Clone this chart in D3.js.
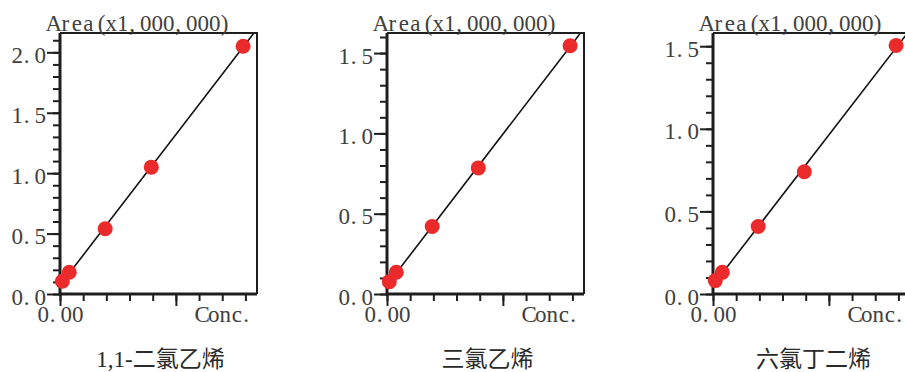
<!DOCTYPE html>
<html>
<head>
<meta charset="utf-8">
<script src="https://cdn.jsdelivr.net/npm/d3@7/dist/d3.min.js"></script>
<style>
  body { margin: 0; background: #fff; }
</style>
</head>
<body>
<svg id="chart"></svg>
<script>
// concentration levels (relative units along the Conc. axis)
const concs = [0.1, 0.4, 1.95, 3.94, 7.9];
// peak area, x1,000,000
const areaDCE = [0.105, 0.18, 0.54, 1.05, 2.05];
const areaTCE = [0.077, 0.135, 0.42, 0.785, 1.546];
const areaHCBD = [0.081, 0.131, 0.409, 0.74, 1.505];
const names = ["1,1-二氯乙烯", "三氯乙烯", "六氯丁二烯"];
const series = [areaDCE, areaTCE, areaHCBD];
const yMaxes = [2.16, 1.625, 1.58];
const xMax = 8.5;
const yLabelStep = 0.5;
const xMinorTicks = [0, 1, 2, 3, 4, 5, 6, 7, 8];
const xMajorTicks = [0, 5];
const yTitle = "Area(x1,000,000)";
const xTitle = "Conc.";
const xZeroLabel = "0.00";

const width = 905;
const height = 372;

const svg = d3.select("#chart")
    .attr("width", width)
    .attr("height", height);

const lefts = [60, 387, 713];
const plotW = 197;
const plotTop = 33;
const plotBottom = 294;
const pitch = 11.5;      // fixed cell width of the half-width latin text
const ink = "#404040";
const axisColor = "#1e1e1e";
const dotColor = "#ea2a2b";

// place each character in its own fixed-width cell (like a CJK system font)
function cellXs(str, x0) {
    return str.split("").map((c, i) => {
        const cell = x0 + i * pitch;
        if (c === "." || c === ",") return cell + 3.5;
        if (c === "(") return cell + pitch * 0.65;
        if (c === ")") return cell + pitch * 0.35;
        return cell + pitch / 2;
    }).join(" ");
}

function monoText(sel, str, x0, y) {
    return sel.text(str)
        .attr("x", cellXs(str, x0))
        .attr("y", y)
        .attr("text-anchor", "middle")
        .attr("font-family", "'Liberation Serif', serif")
        .attr("font-size", "23px")
        .attr("fill", ink);
}

function fit(xs, ys) {
    const mx = d3.mean(xs), my = d3.mean(ys);
    let sxy = 0, sxx = 0;
    xs.forEach((x, i) => { sxy += (x - mx) * (ys[i] - my); sxx += (x - mx) * (x - mx); });
    const slope = sxy / sxx;
    return { slope, intercept: my - slope * mx };
}

series.forEach((vals, i) => {
    const left = lefts[i];
    const yMax = yMaxes[i];
    const data = concs.map((c, j) => ({ conc: c, area: vals[j] }));

    const x = d3.scaleLinear().domain([0, xMax]).range([left, left + plotW]);
    const y = d3.scaleLinear().domain([0, yMax]).range([plotBottom, plotTop]);

    const g = svg.append("g");

    // clip for the calibration line
    g.append("clipPath")
        .attr("id", "clip" + i)
        .append("rect")
        .attr("x", left)
        .attr("y", plotTop)
        .attr("width", plotW)
        .attr("height", plotBottom - plotTop);

    // fitted line
    const f = fit(concs, vals);
    const lineData = [0, xMax].map(c => ({ conc: c, area: f.intercept + f.slope * c }));
    g.append("path")
        .datum(lineData)
        .attr("clip-path", `url(#clip${i})`)
        .attr("fill", "none")
        .attr("stroke", "#111")
        .attr("stroke-width", 1.6)
        .attr("d", d3.line().x(d => x(d.conc)).y(d => y(d.area)));

    // top and right frame
    g.append("path")
        .attr("d", `M${left},${plotTop}H${left + plotW}V${plotBottom}`)
        .attr("fill", "none")
        .attr("stroke", axisColor)
        .attr("stroke-width", 2);

    // y axis: minor ticks every 0.1, major every 0.5
    const yMinor = g.append("g")
        .attr("transform", `translate(${left},0)`)
        .call(d3.axisLeft(y)
            .tickValues(d3.range(0, yMax + 1e-9, 0.1))
            .tickSize(7)
            .tickFormat(""));
    const yMajor = g.append("g")
        .attr("transform", `translate(${left},0)`)
        .call(d3.axisLeft(y)
            .tickValues(d3.range(0, yMax + 1e-9, yLabelStep))
            .tickSize(13)
            .tickFormat(d3.format(".1f")));

    // x axis
    const xMinor = g.append("g")
        .attr("transform", `translate(0,${plotBottom})`)
        .call(d3.axisBottom(x)
            .tickValues(xMinorTicks)
            .tickSize(7)
            .tickFormat(""));
    const xMajor = g.append("g")
        .attr("transform", `translate(0,${plotBottom})`)
        .call(d3.axisBottom(x)
            .tickValues(xMajorTicks)
            .tickSize(12)
            .tickFormat(d => d === 0 ? xZeroLabel : ""));

    [yMinor, yMajor, xMinor, xMajor].forEach(ax => {
        ax.select(".domain").remove();
        ax.selectAll(".tick line")
            .attr("stroke", axisColor)
            .attr("stroke-width", 2);
    });

    yMajor.selectAll(".tick text").each(function(d) {
        const s = d3.format(".1f")(d);
        monoText(d3.select(this), s, -14 - s.length * pitch, 10).attr("dy", null);
    });
    xMajor.selectAll(".tick text").each(function(d) {
        const s = d === 0 ? xZeroLabel : "";
        monoText(d3.select(this), s, -s.length * pitch / 2, 28).attr("dy", null);
    });

    // left and bottom axis lines (heavier)
    g.append("path")
        .attr("d", `M${left},${plotTop}V${plotBottom}H${left + plotW}`)
        .attr("fill", "none")
        .attr("stroke", axisColor)
        .attr("stroke-width", 3);

    // axis titles
    monoText(g.append("text"), yTitle, left - 12, 31);
    monoText(g.append("text"), xTitle, left + plotW - 3 - xTitle.length * pitch, 322);

    // calibration points
    g.selectAll("circle")
        .data(data)
        .enter()
        .append("circle")
        .attr("cx", d => x(d.conc))
        .attr("cy", d => y(d.area))
        .attr("r", 7.5)
        .attr("fill", dotColor);

    // compound name
    svg.append("text")
        .attr("x", left + plotW / 2 + 2)
        .attr("y", 367)
        .attr("text-anchor", "middle")
        .attr("font-family", "'Liberation Serif', 'Noto Sans CJK SC', sans-serif")
        .attr("font-size", "23px")
        .attr("fill", "#2a2a2a")
        .text(names[i]);
});
</script>
</body>
</html>
